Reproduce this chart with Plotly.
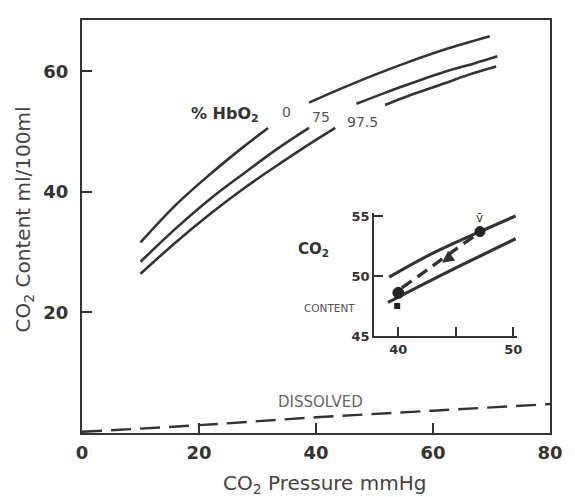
import plotly.graph_objects as go

# ---------------- data ----------------
# main panel: CO2 content (ml/100ml) vs CO2 pressure (mmHg) for three % HbO2 levels
hb0_low_x = [10, 16, 22, 27, 31.8]
hb0_low_y = [31.6, 37.8, 43.0, 47.0, 50.6]
hb0_high_x = [38.8, 45, 50, 56, 62, 69.7]
hb0_high_y = [54.8, 57.4, 59.4, 61.6, 63.6, 65.8]

hb75_low_x = [10, 16, 22, 28, 33.5, 38.8]
hb75_low_y = [28.4, 33.9, 38.9, 43.3, 47.2, 50.6]
hb75_high_x = [46.9, 52, 56.3, 62, 67, 71]
hb75_high_y = [54.6, 56.5, 58.0, 59.9, 61.3, 62.5]

hb975_low_x = [10, 16, 22, 28, 34, 39, 43.3]
hb975_low_y = [26.4, 31.6, 36.4, 40.8, 44.8, 48.0, 50.6]
hb975_high_x = [51.8, 56.3, 62, 66, 70.8]
hb975_high_y = [54.4, 56.1, 58.0, 59.4, 60.8]

dissolved_x = [0, 20, 40, 60, 80]
dissolved_y = [0.2, 1.3, 2.6, 3.7, 4.8]

main_x_ticks = [0, 20, 40, 60, 80]
main_y_ticks = [20, 40, 60]
curve_labels = ["0", "75", "97.5"]

# inset: venous / arterial points
inset_upper_x = [39.2, 43.0, 47.1, 50.2]
inset_upper_y = [49.9, 51.9, 53.7, 55.0]
inset_lower_x = [39.1, 44.0, 50.2]
inset_lower_y = [47.8, 50.2, 53.1]
inset_path_x = [40.3, 43.5, 46.7]
inset_path_y = [49.0, 51.2, 53.4]
venous_pt = (47.1, 53.7)
arterial_pt = (40.0, 48.6)
arterial_mark = (39.9, 47.5)
inset_x_ticks = [40, 45, 50]
inset_x_ticktext = ["40", " ", "50"]
inset_y_ticks = [45, 50, 55]

# ---------------- styling ----------------
INK = "#333333"
GRAY = "#555555"
FONT = "DejaVu Sans"

fig = go.Figure()

def seg(x, y, width=2.6, xa="x", ya="y", dash=None, color=INK):
    fig.add_trace(go.Scatter(
        x=x, y=y, mode="lines", xaxis=xa, yaxis=ya,
        line=dict(color=color, width=width, shape="spline", dash=dash),
        hoverinfo="skip", showlegend=False))

for xs, ys in [(hb0_low_x, hb0_low_y), (hb0_high_x, hb0_high_y),
               (hb75_low_x, hb75_low_y), (hb75_high_x, hb75_high_y),
               (hb975_low_x, hb975_low_y), (hb975_high_x, hb975_high_y)]:
    seg(xs, ys)

seg(dissolved_x, dissolved_y, width=2.4, dash="20px,9px")

# inset traces
seg(inset_upper_x, inset_upper_y, width=3.2, xa="x2", ya="y2")
seg(inset_lower_x, inset_lower_y, width=3.2, xa="x2", ya="y2")
seg(inset_path_x, inset_path_y, width=3.4, xa="x2", ya="y2", dash="12px,7px")
fig.add_trace(go.Scatter(
    x=[venous_pt[0], arterial_pt[0]], y=[venous_pt[1], arterial_pt[1]],
    mode="markers", xaxis="x2", yaxis="y2", opacity=1,
    marker=dict(color="#222222", size=[10, 11], opacity=1,
                line=dict(color="#222222", width=1)),
    cliponaxis=False, hoverinfo="skip", showlegend=False))
fig.add_trace(go.Scatter(
    x=[arterial_mark[0]], y=[arterial_mark[1]],
    mode="markers", xaxis="x2", yaxis="y2", opacity=1,
    marker=dict(color="#222222", size=6, symbol="square", opacity=1),
    cliponaxis=False, hoverinfo="skip", showlegend=False))

ann = []
# arrow head on the dashed path
ann.append(dict(x=43.8, y=51.1, ax=44.5, ay=51.6, xref="x2", yref="y2",
                axref="x2", ayref="y2", showarrow=True, arrowhead=2,
                arrowsize=0.8, arrowwidth=3, arrowcolor=INK, text="",
                standoff=0, startstandoff=0))
ann.append(dict(x=venous_pt[0], y=54.85, xref="x2", yref="y2", text="v\u0304",
                showarrow=False, font=dict(family=FONT, size=12, color=INK)))
ann.append(dict(x=44.7, y=43.7, xref="x2", yref="y2", text="P<sub>CO2</sub>",
                showarrow=False, font=dict(family=FONT, size=14, color=GRAY)))

# main labels
ann.append(dict(x=24.5, y=52.8, text="% HbO<sub>2</sub>", showarrow=False,
                font=dict(family=FONT, size=16, color=INK, weight="bold")))
for lbl, lx, ly in zip(curve_labels, [35.0, 40.8, 48.0], [53.3, 52.4, 51.6]):
    ann.append(dict(x=lx, y=ly, text=lbl, showarrow=False,
                    font=dict(family=FONT, size=14, color=GRAY)))
ann.append(dict(x=40.8, y=5.1, text="DISSOLVED", showarrow=False,
                font=dict(family=FONT, size=15, color="#666666")))
ann.append(dict(x=39.5, y=30.4, text="CO<sub>2</sub>", showarrow=False,
                font=dict(family=FONT, size=15, color=INK, weight="bold")))
ann.append(dict(x=42.3, y=20.7, text="CONTENT", showarrow=False,
                font=dict(family=FONT, size=10.5, color=GRAY)))

# axis titles
ann.append(dict(x=-0.125, y=0.516, xref="paper", yref="paper", textangle=-90,
                xanchor="center", yanchor="middle",
                text="CO<sub>2</sub> Content ml/100ml", showarrow=False,
                font=dict(family=FONT, size=20, color="#444444")))
ann.append(dict(x=0.519, y=-0.123, xref="paper", yref="paper",
                xanchor="center", yanchor="middle",
                text="CO<sub>2</sub> Pressure mmHg", showarrow=False,
                font=dict(family=FONT, size=20, color="#444444")))

fig.update_layout(
    width=575, height=497,
    margin=dict(l=82, r=13, t=20, b=64),
    paper_bgcolor="white", plot_bgcolor="white",
    showlegend=False,
    annotations=ann,
    xaxis=dict(range=[0, 80], tickvals=main_x_ticks, ticks="inside", ticklen=10,
               tickwidth=2, tickcolor=INK, showline=True, linecolor=INK,
               linewidth=2, mirror=True, showgrid=False, zeroline=False,
               tickfont=dict(family=FONT, size=18, color=INK, weight="bold"),
               ticklabelstandoff=2),
    yaxis=dict(range=[0, 68.5], tickvals=main_y_ticks, ticks="inside", ticklen=10,
               tickwidth=2, tickcolor=INK, showline=True, linecolor=INK,
               linewidth=2, mirror=True, showgrid=False, zeroline=False,
               tickfont=dict(family=FONT, size=18, color=INK, weight="bold"),
               ticklabelstandoff=8),
    xaxis2=dict(domain=[0.6244, 0.929], anchor="y2", range=[37.9, 50.3],
                tickvals=inset_x_ticks, ticktext=inset_x_ticktext,
                ticks="inside", ticklen=9, tickwidth=2, tickcolor=INK,
                showline=True, linecolor=INK, linewidth=2, showgrid=False,
                zeroline=False,
                tickfont=dict(family=FONT, size=13, color=INK, weight="bold")),
    yaxis2=dict(domain=[0.2349, 0.5327], anchor="x2", range=[45, 55.25],
                tickvals=inset_y_ticks, ticks="inside", ticklen=9, tickwidth=2,
                tickcolor=INK, showline=True, linecolor=INK, linewidth=2,
                showgrid=False, zeroline=False,
                tickfont=dict(family=FONT, size=13, color=INK, weight="bold")),
)

fig.write_html("out.html")
